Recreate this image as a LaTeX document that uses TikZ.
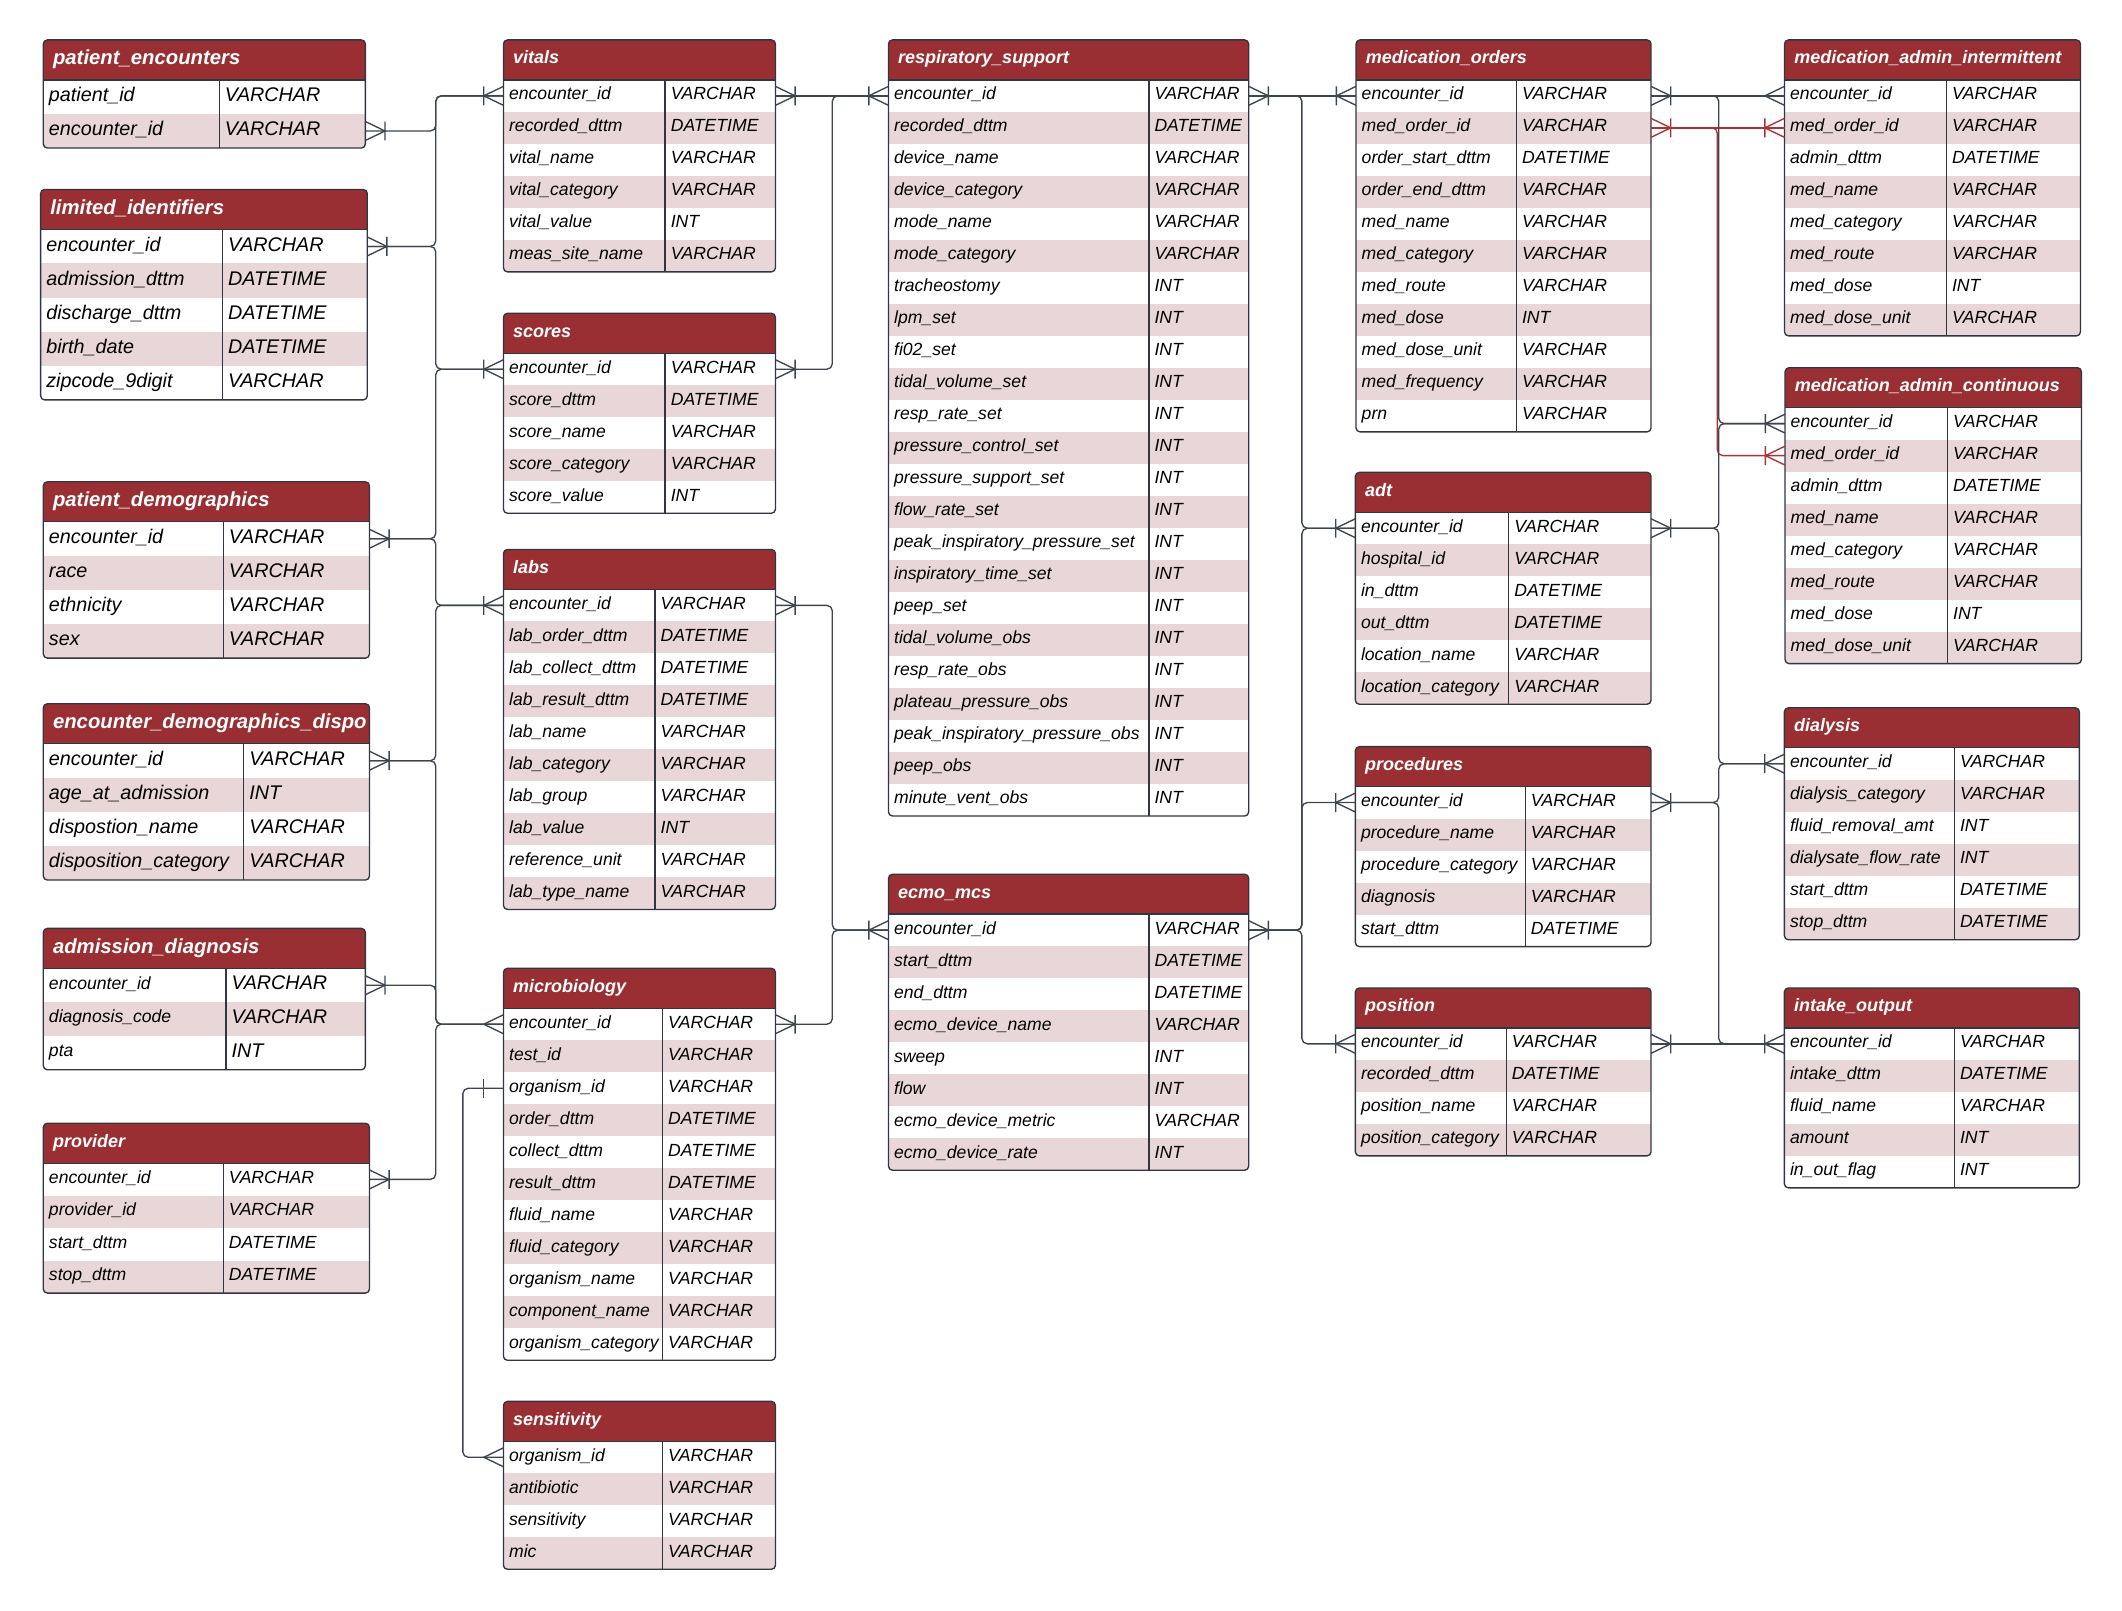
\documentclass[tikz,border=0pt]{standalone}
\usepackage{fontspec}
\setmainfont{Liberation Sans}

\definecolor{hdred}{RGB}{153,47,51}
\definecolor{rowpink}{RGB}{232,214,216}
\definecolor{lineclr}{RGB}{62,68,80}
\definecolor{redclr}{RGB}{172,50,54}

\tikzset{
  erline/.style={draw=lineclr, line width=1pt},
  redline/.style={draw=redclr, line width=1pt},
  conn/.style={erline, rounded corners=4},
  redconn/.style={redline, rounded corners=4},
  tblline/.style={draw=lineclr!80!black, line width=1pt},
  rowbox/.style={inner sep=0pt, outer sep=0pt},
  bighead/.style={inner sep=0pt, anchor=base west, yshift=-3.6pt, text=white, font=\fontsize{15}{18}\selectfont\bfseries\itshape},
  bigname/.style={inner sep=0pt, anchor=base west, yshift=-3.4pt, font=\fontsize{14.6}{17}\selectfont\itshape},
  bigtype/.style={bigname},
  smallhead/.style={inner sep=0pt, anchor=base west, yshift=-3pt, text=white, font=\fontsize{13.3}{16}\selectfont\bfseries\itshape},
  smallname/.style={inner sep=0pt, anchor=base west, yshift=-2.9pt, font=\fontsize{13}{15}\selectfont\itshape},
  smalltype/.style={smallname},
  mixhead/.style={bighead},
  mixname/.style={smallname},
  mixtype/.style={bigname},
  pics/crowbar/.style={code={\draw[#1] (0,-7) -- (14.5,0) -- (0,7) (14.5,-7) -- (14.5,7);}},
  pics/crow/.style={code={\draw[#1] (0,-7) -- (14.5,0) -- (0,7);}},
  pics/onebar/.style={code={\draw[#1] (14.5,-7) -- (14.5,7);}},
}

\begin{document}
\begin{tikzpicture}[x=1pt,y=-1pt]
\useasboundingbox (0,0) rectangle (1568,1190);

% table: name, x, y, width, divider, row height, size, title, rows
\def\ertable#1#2#3#4#5#6#7#8#9{%
  \foreach \nm [count=\rw] in {#9} {\xdef\ertrows{\rw}}
  \begin{scope}
    \clip[rounded corners=3] (#2,#3) rectangle ++(#4,29.5+\ertrows*#6);
    \fill[hdred] (#2,#3) rectangle ++(#4,29.5);
    \foreach \nm [count=\rw] in {#9} {
      \ifodd\rw\else\fill[rowpink] (#2,#3+29.5+\rw*#6-#6) rectangle ++(#4,#6);\fi
    }
  \end{scope}
  \foreach \nm/\ty [count=\rw] in {#9} {
    \node[rowbox, minimum width=#4, minimum height=#6, anchor=north west] (#1-\rw) at (#2,#3+29.5+\rw*#6-#6) {};
    \node[#7name] (#1-\rw-n) at (#2+4,#3+29.5+\rw*#6-0.5*#6) {\nm};
    \node[#7type] (#1-\rw-t) at (#2+#5+4,#3+29.5+\rw*#6-0.5*#6) {\ty};
  }
  \draw[tblline, rounded corners=3] (#2,#3) rectangle ++(#4,29.5+\ertrows*#6);
  \draw[tblline] (#2,#3+29.5) -- ++(#4,0);
  \draw[tblline] (#2+#5,#3+29.5) -- ++(0,\ertrows*#6);
  \node[#7head] (#1) at (#2+7,#3+14.75) {#8};
}

% left column
\ertable{pe}{32}{29.5}{238}{130}{25.2}{big}{patient\_encounters}
  {patient\_id/VARCHAR, encounter\_id/VARCHAR}
\ertable{li}{30}{140}{241.4}{134.4}{25.2}{big}{limited\_identifiers}
  {encounter\_id/VARCHAR, admission\_dttm/DATETIME, discharge\_dttm/DATETIME,
   birth\_date/DATETIME, zipcode\_9digit/VARCHAR}
\ertable{pd}{32}{356}{241}{133}{25.2}{big}{patient\_demographics}
  {encounter\_id/VARCHAR, race/VARCHAR, ethnicity/VARCHAR, sex/VARCHAR}
\ertable{ed}{32}{520}{241}{148}{25.2}{big}{encounter\_demographics\_dispo}
  {encounter\_id/VARCHAR, age\_at\_admission/INT, dispostion\_name/VARCHAR,
   disposition\_category/VARCHAR}
\ertable{ad}{32}{686}{238}{135}{25}{mix}{admission\_diagnosis}
  {encounter\_id/VARCHAR, diagnosis\_code/VARCHAR, pta/INT}
\ertable{pv}{32}{830}{241}{133}{24}{small}{provider}
  {encounter\_id/VARCHAR, provider\_id/VARCHAR, start\_dttm/DATETIME, stop\_dttm/DATETIME}

% second column
\ertable{vi}{372}{29.5}{201}{119.5}{23.65}{small}{vitals}
  {encounter\_id/VARCHAR, recorded\_dttm/DATETIME, vital\_name/VARCHAR,
   vital\_category/VARCHAR, vital\_value/INT, meas\_site\_name/VARCHAR}
\ertable{sc}{372}{231.5}{201}{119.5}{23.65}{small}{scores}
  {encounter\_id/VARCHAR, score\_dttm/DATETIME, score\_name/VARCHAR,
   score\_category/VARCHAR, score\_value/INT}
\ertable{lb}{372}{406}{201}{112}{23.65}{small}{labs}
  {encounter\_id/VARCHAR, lab\_order\_dttm/DATETIME, lab\_collect\_dttm/DATETIME,
   lab\_result\_dttm/DATETIME, lab\_name/VARCHAR, lab\_category/VARCHAR,
   lab\_group/VARCHAR, lab\_value/INT, reference\_unit/VARCHAR, lab\_type\_name/VARCHAR}
\ertable{mb}{372}{715.5}{201}{117.5}{23.65}{small}{microbiology}
  {encounter\_id/VARCHAR, test\_id/VARCHAR, organism\_id/VARCHAR, order\_dttm/DATETIME,
   collect\_dttm/DATETIME, result\_dttm/DATETIME, fluid\_name/VARCHAR,
   fluid\_category/VARCHAR, organism\_name/VARCHAR, component\_name/VARCHAR,
   organism\_category/VARCHAR}
\ertable{se}{372}{1035.5}{201}{117.5}{23.65}{small}{sensitivity}
  {organism\_id/VARCHAR, antibiotic/VARCHAR, sensitivity/VARCHAR, mic/VARCHAR}

% third column
\ertable{rs}{656.5}{29.5}{266.2}{192.4}{23.65}{small}{respiratory\_support}
  {encounter\_id/VARCHAR, recorded\_dttm/DATETIME, device\_name/VARCHAR,
   device\_category/VARCHAR, mode\_name/VARCHAR, mode\_category/VARCHAR,
   tracheostomy/INT, lpm\_set/INT, fi02\_set/INT, tidal\_volume\_set/INT,
   resp\_rate\_set/INT, pressure\_control\_set/INT, pressure\_support\_set/INT,
   flow\_rate\_set/INT, peak\_inspiratory\_pressure\_set/INT, inspiratory\_time\_set/INT,
   peep\_set/INT, tidal\_volume\_obs/INT, resp\_rate\_obs/INT, plateau\_pressure\_obs/INT,
   peak\_inspiratory\_pressure\_obs/INT, peep\_obs/INT, minute\_vent\_obs/INT}
\ertable{em}{656.5}{646}{266.2}{192.5}{23.65}{small}{ecmo\_mcs}
  {encounter\_id/VARCHAR, start\_dttm/DATETIME, end\_dttm/DATETIME,
   ecmo\_device\_name/VARCHAR, sweep/INT, flow/INT, ecmo\_device\_metric/VARCHAR,
   ecmo\_device\_rate/INT}

% fourth column
\ertable{mo}{1002}{29.5}{218}{118.5}{23.65}{small}{medication\_orders}
  {encounter\_id/VARCHAR, med\_order\_id/VARCHAR, order\_start\_dttm/DATETIME,
   order\_end\_dttm/VARCHAR, med\_name/VARCHAR, med\_category/VARCHAR,
   med\_route/VARCHAR, med\_dose/INT, med\_dose\_unit/VARCHAR,
   med\_frequency/VARCHAR, prn/VARCHAR}
\ertable{adt}{1001.5}{349}{218.5}{113.3}{23.65}{small}{adt}
  {encounter\_id/VARCHAR, hospital\_id/VARCHAR, in\_dttm/DATETIME, out\_dttm/DATETIME,
   location\_name/VARCHAR, location\_category/VARCHAR}
\ertable{pr}{1001.5}{551.7}{218.5}{125.5}{23.65}{small}{procedures}
  {encounter\_id/VARCHAR, procedure\_name/VARCHAR, procedure\_category/VARCHAR,
   diagnosis/VARCHAR, start\_dttm/DATETIME}
\ertable{po}{1001.5}{730}{218.5}{111.5}{23.65}{small}{position}
  {encounter\_id/VARCHAR, recorded\_dttm/DATETIME, position\_name/VARCHAR,
   position\_category/VARCHAR}

% right column
\ertable{mi}{1318.6}{29.5}{218.7}{119.6}{23.65}{small}{medication\_admin\_intermittent}
  {encounter\_id/VARCHAR, med\_order\_id/VARCHAR, admin\_dttm/DATETIME, med\_name/VARCHAR,
   med\_category/VARCHAR, med\_route/VARCHAR, med\_dose/INT, med\_dose\_unit/VARCHAR}
\ertable{mc}{1319}{271.7}{219}{120}{23.65}{small}{medication\_admin\_continuous}
  {encounter\_id/VARCHAR, med\_order\_id/VARCHAR, admin\_dttm/DATETIME, med\_name/VARCHAR,
   med\_category/VARCHAR, med\_route/VARCHAR, med\_dose/INT, med\_dose\_unit/VARCHAR}
\ertable{dl}{1318.5}{523}{218}{125.6}{23.65}{small}{dialysis}
  {encounter\_id/VARCHAR, dialysis\_category/VARCHAR, fluid\_removal\_amt/INT,
   dialysate\_flow\_rate/INT, start\_dttm/DATETIME, stop\_dttm/DATETIME}
\ertable{io}{1318.5}{730}{218}{125.6}{23.65}{small}{intake\_output}
  {encounter\_id/VARCHAR, intake\_dttm/DATETIME, fluid\_name/VARCHAR, amount/INT,
   in\_out\_flag/INT}

% buses
\coordinate (busA) at (322,0);
\coordinate (busS) at (342,0);
\coordinate (busB) at (615,0);
\coordinate (busC) at (962,0);
\coordinate (busR) at (1269,0);
\coordinate (busD) at (1270,0);

% red link on med_order_id
\draw[redconn] (mo-2.east) -- (mi-2.west);
\draw[redconn] (mo-2.east) -- (busR |- mo-2.east) -- (busR |- mc-2.west) -- (mc-2.west);

\foreach \a/\b in {pe-2/vi-1, li-1/vi-1, li-1/sc-1, pd-1/sc-1, pd-1/lb-1,
                   ed-1/lb-1, ed-1/mb-1, ad-1/mb-1, pv-1/mb-1}
  \draw[conn] (\a.east) -- (busA |- \a.east) -- (busA |- \b.west) -- (\b.west);
\foreach \a/\b in {sc-1/rs-1, lb-1/em-1, mb-1/em-1}
  \draw[conn] (\a.east) -- (busB |- \a.east) -- (busB |- \b.west) -- (\b.west);
\foreach \a/\b in {rs-1/adt-1, em-1/adt-1, em-1/pr-1, em-1/po-1}
  \draw[conn] (\a.east) -- (busC |- \a.east) -- (busC |- \b.west) -- (\b.west);
\foreach \a/\b in {mo-1/mc-1, adt-1/mc-1, adt-1/dl-1, pr-1/dl-1, pr-1/io-1}
  \draw[conn] (\a.east) -- (busD |- \a.east) -- (busD |- \b.west) -- (\b.west);
\foreach \a/\b in {vi-1/rs-1, rs-1/mo-1, mo-1/mi-1, po-1/io-1}
  \draw[conn] (\a.east) -- (\b.west);
\draw[conn] (mb-3.west) -- (busS |- mb-3.west) -- (busS |- se-1.west) -- (se-1.west);

% ends
\foreach \a in {pe-2, li-1, pd-1, ed-1, ad-1, pv-1, vi-1, sc-1, lb-1, mb-1,
                rs-1, em-1, mo-1, adt-1, pr-1, po-1}
  \pic at (\a.east) {crowbar=erline};
\foreach \a in {vi-1, sc-1, lb-1, rs-1, em-1, mo-1, adt-1, pr-1, po-1, mc-1, dl-1, io-1}
  \pic[xscale=-1] at (\a.west) {crowbar=erline};
\foreach \a in {mb-1, mi-1, se-1}
  \pic[xscale=-1] at (\a.west) {crow=erline};
\pic[xscale=-1] at (mb-3.west) {onebar=erline};
\pic at (mo-2.east) {crowbar=redline};
\pic[xscale=-1] at (mi-2.west) {crowbar=redline};
\pic[xscale=-1] at (mc-2.west) {crowbar=redline};

\end{tikzpicture}
\end{document}
